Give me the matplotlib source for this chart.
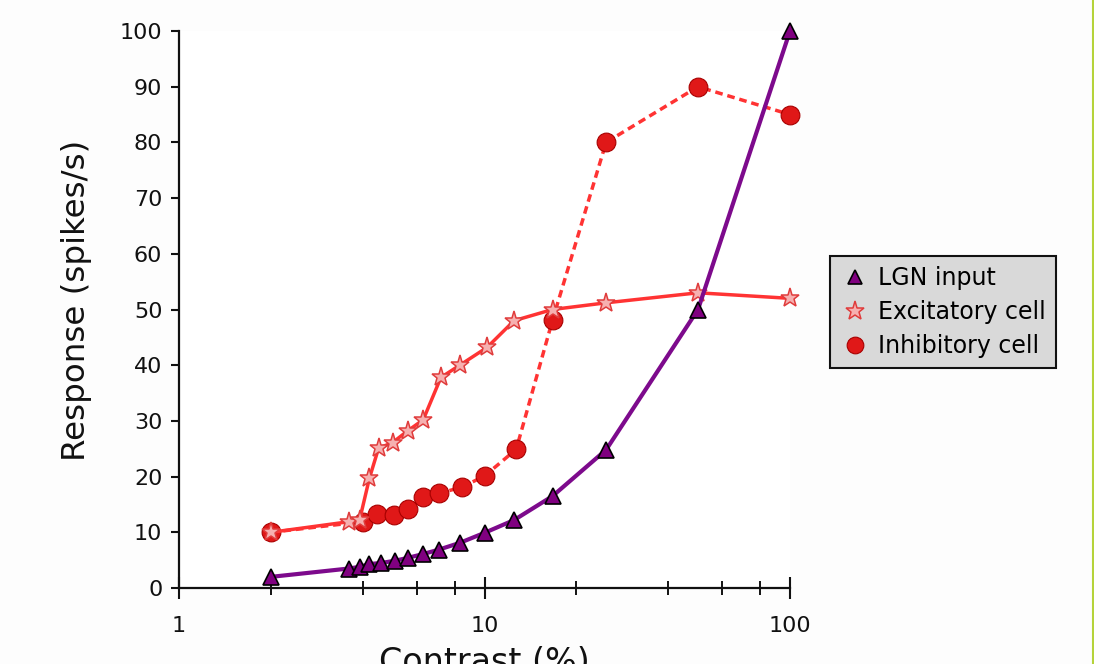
import matplotlib
matplotlib.use("Agg")
import matplotlib.pyplot as plt
from matplotlib.lines import Line2D
from matplotlib.ticker import FixedLocator, NullFormatter, FixedFormatter

plt.rcParams['font.family'] = ['DejaVu Sans']

# ---- data ----
lgn_x = [2, 3.6, 3.9, 4.2, 4.6, 5.1, 5.6, 6.3, 7.1, 8.3, 10, 12.5, 16.7, 25, 50, 100]
lgn_y = [2.0, 3.5, 3.8, 4.3, 4.5, 4.9, 5.4, 6.1, 6.9, 8.1, 9.9, 12.2, 16.5, 24.8, 50, 100]

exc_x = [2, 3.6, 3.9, 4.2, 4.5, 5.0, 5.6, 6.3, 7.2, 8.3, 10.2, 12.5, 16.7, 25, 50, 100]
exc_y = [10, 11.9, 12.2, 19.7, 25.1, 26.1, 28.2, 30.2, 37.8, 40.0, 43.2, 48, 50, 51.2, 53, 52]

inh_x = [2, 4.0, 4.44, 5.06, 5.63, 6.28, 7.11, 8.42, 10, 12.7, 16.7, 25, 50, 100]
inh_y = [10, 11.9, 13.3, 13.1, 14.1, 16.3, 17.0, 18.1, 20.1, 24.9, 48.1, 80, 90, 85]

y_ticks = [0, 10, 20, 30, 40, 50, 60, 70, 80, 90, 100]
x_major = [1, 10, 100]
x_major_labels = ['1', '10', '100']
x_minor = [2, 4, 6, 8, 20, 40, 60, 80]

series_names = ['LGN input', 'Excitatory cell', 'Inhibitory cell']

# ---- figure ----
fig = plt.figure(figsize=(10.94, 6.64), dpi=100)
fig.patch.set_facecolor('#fdfdfd')
ax = fig.add_axes([179/1094, 1 - 588/664, (790-179)/1094, (588-31)/664])
ax.set_facecolor('white')

red = '#ff3333'
purple = '#7d0a8c'

l_inh, = ax.plot(inh_x, inh_y, color=red, lw=2.5, ls=(0, (2.2, 1.4)),
                 marker='o', ms=13.5, mfc='#e01818', mec='#a80000', mew=0.8,
                 clip_on=False, zorder=3, label=series_names[2])
l_exc, = ax.plot(exc_x, exc_y, color=red, lw=2.5, ls='-',
                 marker='*', ms=14, mfc='#f6b0b0', mec='#e03c3c', mew=1.1,
                 clip_on=False, zorder=4, label=series_names[1])
l_lgn, = ax.plot(lgn_x, lgn_y, color=purple, lw=3, ls='-',
                 marker='^', ms=11, mfc='#800080', mec='black', mew=1.2,
                 clip_on=False, zorder=5, label=series_names[0])

ax.set_xscale('log')
ax.set_xlim(1, 100)
ax.set_ylim(0, 100)

ax.xaxis.set_major_locator(FixedLocator(x_major))
ax.xaxis.set_major_formatter(FixedFormatter(x_major_labels))
ax.xaxis.set_minor_locator(FixedLocator(x_minor))
ax.xaxis.set_minor_formatter(NullFormatter())
ax.set_yticks(y_ticks)

for s in ['top', 'right']:
    ax.spines[s].set_visible(False)
for s in ['left', 'bottom']:
    ax.spines[s].set_linewidth(1.6)
    ax.spines[s].set_color('#111111')

ax.tick_params(axis='y', direction='out', length=6, width=1.5, labelsize=16,
               pad=6, colors='#111111')
ax.tick_params(axis='x', which='major', direction='inout', length=16, width=1.5,
               labelsize=16, pad=12, colors='#111111')
ax.tick_params(axis='x', which='minor', direction='inout', length=10, width=1.3)

ax.set_ylabel('Response (spikes/s)', fontsize=23.4, color='#111111')
ax.yaxis.set_label_coords(-0.143, 0.517)
ax.set_xlabel('Contrast (%)', fontsize=24, color='#111111')
ax.xaxis.set_label_coords(0.5, -0.104)

leg = ax.legend(handles=[l_lgn, l_exc, l_inh], labels=series_names,
                loc='upper left', bbox_to_anchor=(830/1094, 1 - 256/664),
                bbox_transform=fig.transFigure, borderaxespad=0,
                fontsize=17, frameon=True, fancybox=False, framealpha=1,
                facecolor='#d9d9d9', edgecolor='#111111',
                handlelength=1.27, handletextpad=0.34, labelspacing=0.43,
                borderpad=0.42)
leg.get_frame().set_linewidth(1.5)
for h in leg.legend_handles:
    h.set_linestyle('None')
leg.legend_handles[0].set_markersize(10)
leg.legend_handles[1].set_markersize(14)
leg.legend_handles[2].set_markersize(12)

# thin green border on the right edge
fig.add_artist(Line2D([1092.5/1094, 1092.5/1094], [0, 1], transform=fig.transFigure,
                      color='#b5d33a', lw=1.5))

fig.savefig('out.png', dpi=100, facecolor=fig.get_facecolor())
